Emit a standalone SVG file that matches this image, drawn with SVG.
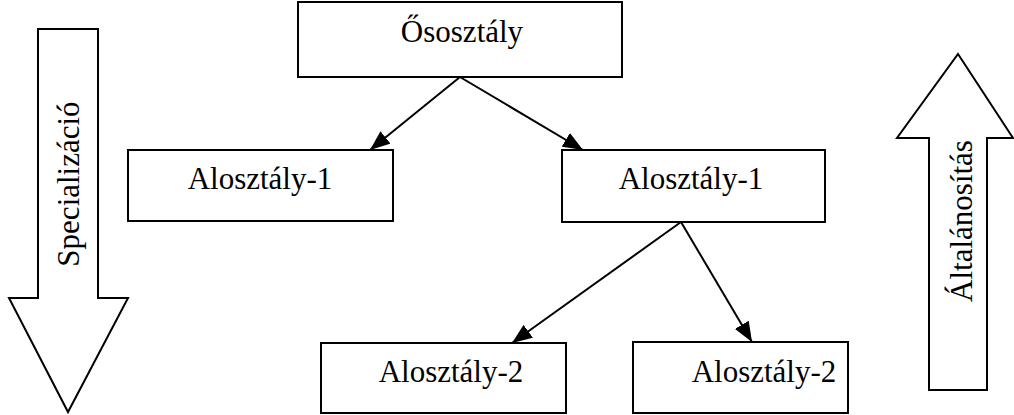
<svg xmlns="http://www.w3.org/2000/svg" width="1014" height="415" viewBox="0 0 1014 415">
<style>
.box{fill:#fff;stroke:#000;stroke-width:2}
.big{fill:#fff;stroke:#000;stroke-width:2;stroke-linejoin:miter}
.t{font-family:"Liberation Serif","Times New Roman",serif;font-size:31px;fill:#000;text-anchor:middle}
.c{stroke:#000;stroke-width:2;fill:none}
</style>
<defs>
<marker id="ah" markerWidth="10" markerHeight="8" refX="10" refY="4" orient="auto" markerUnits="strokeWidth">
<path d="M0,0 L10,4 L0,8 Z" fill="#000"/>
</marker>
</defs>
<rect width="1014" height="415" fill="#fff"/>
<g id="spec">
<polygon class="big" points="38,29 98,29 98,298 128,298 68,412 9,298 38,298"/>
<text class="t" transform="translate(79,184) rotate(-90)">Specializáció</text>
</g>
<g id="alt">
<polygon class="big" points="929,390 987,390 987,138 1013,138 958,54 897,138 929,138"/>
<text class="t" transform="translate(972,221) rotate(-90)">Általánosítás</text>
</g>
<g id="root">
<rect class="box" x="298" y="2" width="324" height="75"/>
<text class="t" x="462" y="42">Ősosztály</text>
</g>
<g id="sub1a">
<rect class="box" x="128" y="150" width="265" height="71"/>
<text class="t" x="260" y="189">Alosztály-1</text>
</g>
<g id="sub1b">
<rect class="box" x="562" y="150" width="263" height="72"/>
<text class="t" x="691" y="189">Alosztály-1</text>
</g>
<g id="sub2a">
<rect class="box" x="321" y="343" width="245" height="70"/>
<text class="t" x="451" y="382">Alosztály-2</text>
</g>
<g id="sub2b">
<rect class="box" x="633" y="342" width="215" height="71"/>
<text class="t" x="764" y="382">Alosztály-2</text>
</g>
<g id="connectors">
<line class="c" x1="460" y1="77" x2="370" y2="150" marker-end="url(#ah)"/>
<line class="c" x1="460" y1="77" x2="583" y2="150" marker-end="url(#ah)"/>
<line class="c" x1="681" y1="222" x2="512" y2="343" marker-end="url(#ah)"/>
<line class="c" x1="681" y1="222" x2="752" y2="342" marker-end="url(#ah)"/>
</g>
</svg>
